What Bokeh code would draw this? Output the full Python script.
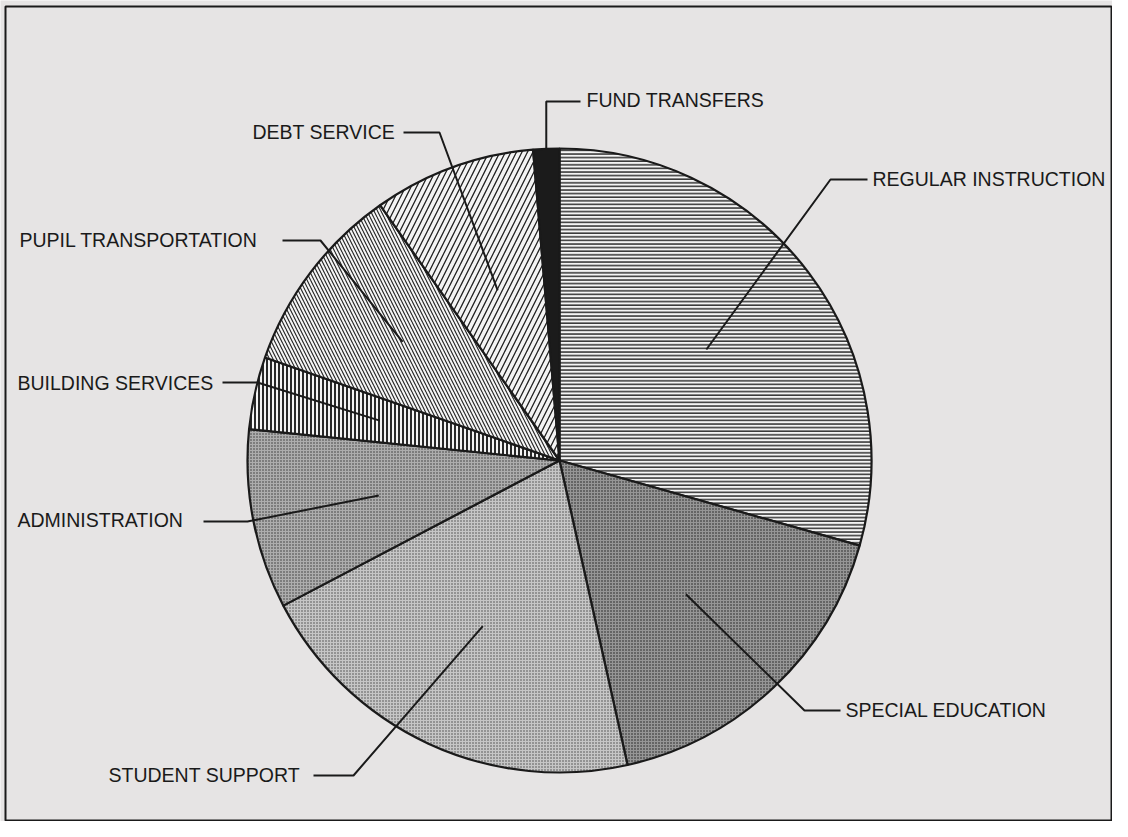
import math
from bokeh.plotting import figure
from bokeh.models import Range1d, ColumnDataSource
from bokeh.core.properties import value
from bokeh.embed import file_html
from bokeh.resources import INLINE

# ---- data (percent shares, clockwise from 12 o'clock) ----
categories = ["REGULAR INSTRUCTION", "SPECIAL EDUCATION", "STUDENT SUPPORT",
              "ADMINISTRATION", "BUILDING SERVICES", "PUPIL TRANSPORTATION",
              "DEBT SERVICE", "FUND TRANSFERS"]
shares = [29.4, 17.1, 20.8, 9.3, 3.75, 9.9, 8.4, 1.35]

# ---- styles ----
fill_colors = ["#f4f4f4", "#969696", "#c6c6c6", "#adadad", "#f4f4f4", "#f4f4f4", "#f4f4f4", "#1b1b1b"]
hatch_patterns = ["horizontal_line", "dot", "dot", "dot", "vertical_line",
                  "left_diagonal_line", "right_diagonal_line", " "]
hatch_scales = [3.6, 3, 3, 3, 4, 7, 11, 4]
hatch_weights = [1.3, 1.3, 0.9, 1.0, 1.8, 1.1, 1.3, 1.0]
hatch_colors = ["#111111", "#1a1a1a", "#444444", "#333333", "#111111", "#222222", "#222222", "#111111"]

# ---- layout (reference pixels, y downwards) ----
W, H = 1112, 821
REF_H = 837
cx_px, cy_px, radius = 559, 460, 312
label_x = [872, 845, 108, 17, 17, 19, 252, 586]
label_base = [178, 709, 774, 519, 382, 239, 131, 99]
hline_x0 = [830, 804, 313, 203, 222, 282, 403, 542]
hline_x1 = [867, 840, 353, 247, 257, 320, 439, 580]
hline_y = [179, 710, 775, 521, 382, 240, 132, 101]
elbow_left = [True, True, False, False, False, False, False, True]
leader_rfrac = [0.59, 0.59, 0.585, 0.59, 0.59, 0.63, 0.58, 1.0]
frame_box = (5, 6, W - 1, H - 1)  # left, top, right, bottom


def ypx(y):
    return REF_H - y


cx, cy = cx_px, ypx(cy_px)

total = sum(shares)
starts, ends, mids = [], [], []
cum = 0.0
for s in shares:
    a_end = math.radians(90 - 360 * cum / total)
    cum += s
    a_start = math.radians(90 - 360 * cum / total)
    starts.append(a_start)
    ends.append(a_end)
    mids.append((a_start + a_end) / 2)

src = ColumnDataSource(dict(
    x=[cx] * len(shares), y=[cy] * len(shares),
    start=starts, end=ends, cat=categories,
    fill=fill_colors, hp=hatch_patterns, hs=hatch_scales,
    hw=hatch_weights, hc=hatch_colors,
))

p = figure(width=W, height=H, x_range=Range1d(0, W), y_range=Range1d(REF_H - H, REF_H),
           output_backend="svg", toolbar_location=None, x_axis_type=None, y_axis_type=None,
           min_border=0, background_fill_color="#e6e4e4", border_fill_color="#e6e4e4")
p.grid.visible = False
p.outline_line_color = None

# page frame
fl, ft, fr, fb = frame_box
p.quad(left=[fl], right=[fr], top=[ypx(ft)], bottom=[ypx(fb)],
       fill_color=None, line_color="#1a1a1a", line_width=2)

p.wedge(x="x", y="y", radius=radius, start_angle="start", end_angle="end", source=src,
        fill_color="fill", hatch_pattern="hp", hatch_scale="hs", hatch_weight="hw",
        hatch_color="hc", line_color="#1a1a1a", line_width=2.2)

# leader lines
xs, ys = [], []
for i in range(len(categories)):
    ex = cx + leader_rfrac[i] * radius * math.cos(mids[i])
    ey = cy + leader_rfrac[i] * radius * math.sin(mids[i])
    if elbow_left[i]:
        ox, fx = hline_x0[i], hline_x1[i]
    else:
        ox, fx = hline_x1[i], hline_x0[i]
    if i == len(categories) - 1:
        ox = ex
    xs.append([fx, ox, ex])
    ys.append([ypx(hline_y[i]), ypx(hline_y[i]), ey])
p.multi_line(xs=xs, ys=ys, line_color="#1a1a1a", line_width=2)

p.text(x=label_x, y=[ypx(b) for b in label_base], text=categories,
       text_font=value("Liberation Sans"), text_font_size=value("19.5px"),
       text_color="#1a1a1a", text_align="left", text_baseline="alphabetic")

open("out.html", "w").write(file_html(p, INLINE))
